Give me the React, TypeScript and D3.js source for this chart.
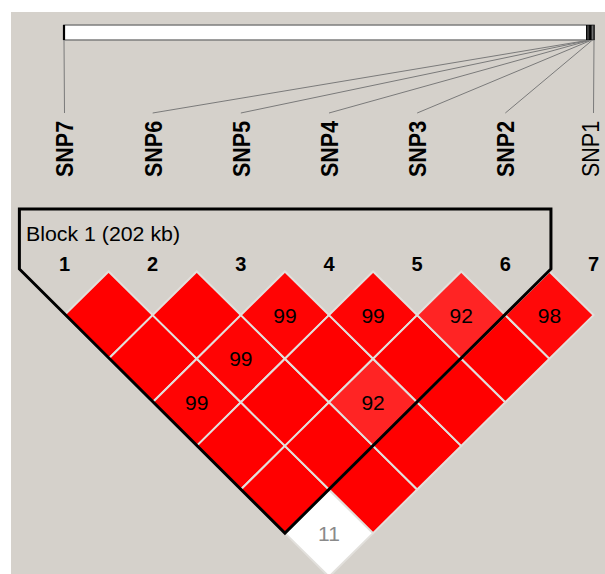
import React from "react";
import * as d3 from "d3";

// ---------------- data ----------------
const markerNumbers = [1, 2, 3, 4, 5, 6, 7];
const markerNames = ["SNP7", "SNP6", "SNP5", "SNP4", "SNP3", "SNP2", "SNP1"];
const markerPositionsKb = [0, 200.0, 200.5, 201.0, 201.5, 202.0, 202.8];

// D' (x100) of marker i with markers i+1 .. 7
const dprimeRow1 = [100, 100, 99, 100, 100, 11];
const dprimeRow2 = [100, 99, 100, 100, 100];
const dprimeRow3 = [99, 100, 92, 100];
const dprimeRow4 = [99, 100, 100];
const dprimeRow5 = [92, 100];
const dprimeRow6 = [98];
const dprimeRows = [dprimeRow1, dprimeRow2, dprimeRow3, dprimeRow4, dprimeRow5, dprimeRow6];
// pairs with LOD < 2
const lowLodPairs = [[1, 7]];

const blockStart = 1;
const blockEnd = 6;
const blockLabel = "Block 1 (202 kb)";

// ---------------- layout ----------------
const W = 605;
const H = 574;
const BG = "#d5d1cb";
const FONT = "'Liberation Sans', Arial, Helvetica, sans-serif";

const xMarker = d3.scaleLinear().domain([1, 7]).range([64.5, 593.5]);
const yLevel = d3.scaleLinear().domain([0, 6]).range([271.5, 271.5 + 6 * 43.6]);
const xKb = d3.scaleLinear().domain([0, 202.8]).range([64, 594]);

function cellColor(d: number, lowLod: boolean): string {
  if (lowLod && d < 100) return "#ffffff";
  if (d >= 100) return "#ff0000";
  const blgr = Math.round((255 - 32) * 2 * (1 - d / 100));
  return d3.rgb(255, blgr, blgr).toString();
}

type Cell = { i: number; j: number; d: number; low: boolean };
const cells: Cell[] = [];
dprimeRows.forEach((row, r) => {
  row.forEach((d, c) => {
    const i = r + 1;
    const j = i + 1 + c;
    const low = lowLodPairs.some((p) => p[0] === i && p[1] === j);
    cells.push({ i, j, d, low });
  });
});

function diamondPath(i: number, j: number): string {
  const k = j - i;
  const cx = xMarker((i + j) / 2);
  const p = d3.path();
  p.moveTo(cx, yLevel(k - 1));
  p.lineTo(xMarker((i + j + 1) / 2), yLevel(k));
  p.lineTo(cx, yLevel(k + 1));
  p.lineTo(xMarker((i + j - 1) / 2), yLevel(k));
  p.closePath();
  return p.toString();
}

export default function App() {
  const barTop = 25;
  const barBottom = 40;
  const labelBottom = 177;
  const connectorEnd = 113;

  // block outline
  const blockTopY = 209;
  const cornerY = 269;
  const Lc = yLevel.invert(cornerY);
  const xL = xMarker((2 * blockStart + Lc - 1) / 2) + 1.5;
  const xR = xMarker((2 * blockEnd - Lc + 1) / 2) - 1;
  const bottomLevel = blockEnd - blockStart + 1;
  const xB = xMarker((blockStart + blockEnd) / 2);
  const yB = yLevel(bottomLevel);
  const blockPts = [
    [xL, cornerY],
    [xL, blockTopY],
    [xR, blockTopY],
    [xR, cornerY],
    [xB, yB],
  ];
  const blockPath = d3.line()(blockPts as [number, number][]) + "Z";

  const fontSize = 21.5;
  const stretch = 1.15;
  const capH = 0.716 * fontSize * stretch;
  const descent = 0.212 * fontSize * stretch;

  return (
    <svg
      width={W}
      height={H}
      style={{ position: "absolute", left: 0, top: 0, display: "block" }}
      xmlns="http://www.w3.org/2000/svg"
    >
      <rect x={0} y={0} width={W} height={H} fill="#ffffff" />
      <rect x={11} y={12} width={W - 11} height={H - 12} fill={BG} />

      {/* physical map bar */}
      <rect
        x={xKb(0)}
        y={barTop}
        width={xKb(202.8) - xKb(0)}
        height={barBottom - barTop}
        fill="#ffffff"
        stroke="#7d7d7d"
        strokeWidth={1.5}
      />
      {markerPositionsKb.map((kb, idx) => (
        <line
          key={"bm" + idx}
          x1={xKb(kb)}
          x2={xKb(kb)}
          y1={barTop}
          y2={barBottom}
          stroke="#000"
          strokeWidth={idx === 0 ? 2.2 : 1.3}
        />
      ))}

      {/* connectors */}
      {markerPositionsKb.map((kb, idx) => (
        <line
          key={"cn" + idx}
          x1={xKb(kb)}
          y1={barBottom + 0.5}
          x2={xMarker(markerNumbers[idx])}
          y2={connectorEnd}
          stroke="#7a7a7a"
          strokeWidth={1}
        />
      ))}

      {/* marker names */}
      {markerNames.map((name, idx) => {
        const m = markerNumbers[idx];
        const inBlock = m >= blockStart && m <= blockEnd;
        const baseX = Math.min(xMarker(m) + capH / 2, W - descent - 0.5);
        return (
          <text
            key={"nm" + idx}
            transform={`translate(${baseX},${labelBottom}) rotate(-90) scale(1,${stretch})`}
            fontFamily={FONT}
            fontSize={fontSize}
            fontWeight={inBlock ? "bold" : "normal"}
            fill="#000"
            textAnchor="start"
          >
            {name}
          </text>
        );
      })}

      {/* LD diamonds */}
      {cells.map((c) => (
        <path
          key={`d${c.i}-${c.j}`}
          d={diamondPath(c.i, c.j)}
          fill={cellColor(c.d, c.low)}
          stroke="#e2e0dc"
          strokeWidth={2}
        />
      ))}
      {cells
        .filter((c) => c.d < 100)
        .map((c) => (
          <text
            key={`t${c.i}-${c.j}`}
            x={xMarker((c.i + c.j) / 2)}
            y={yLevel(c.j - c.i) + 7.6}
            textAnchor="middle"
            fontFamily={FONT}
            fontSize={21}
            fill={c.low ? "#8a8a8a" : "#000"}
          >
            {c.d}
          </text>
        ))}

      {/* block outline */}
      <path d={blockPath} fill="none" stroke="#000" strokeWidth={3} strokeLinejoin="miter" />
      <text
        x={26}
        y={241}
        fontFamily={FONT}
        fontSize={19.5}
        fill="#000"
        textLength={154}
        lengthAdjust="spacingAndGlyphs"
      >
        {blockLabel}
      </text>

      {/* marker numbers */}
      {markerNumbers.map((m) => (
        <text
          key={"mn" + m}
          x={xMarker(m)}
          y={270.5}
          textAnchor="middle"
          fontFamily={FONT}
          fontSize={20}
          fontWeight="bold"
          fill="#000"
        >
          {m}
        </text>
      ))}
    </svg>
  );
}
